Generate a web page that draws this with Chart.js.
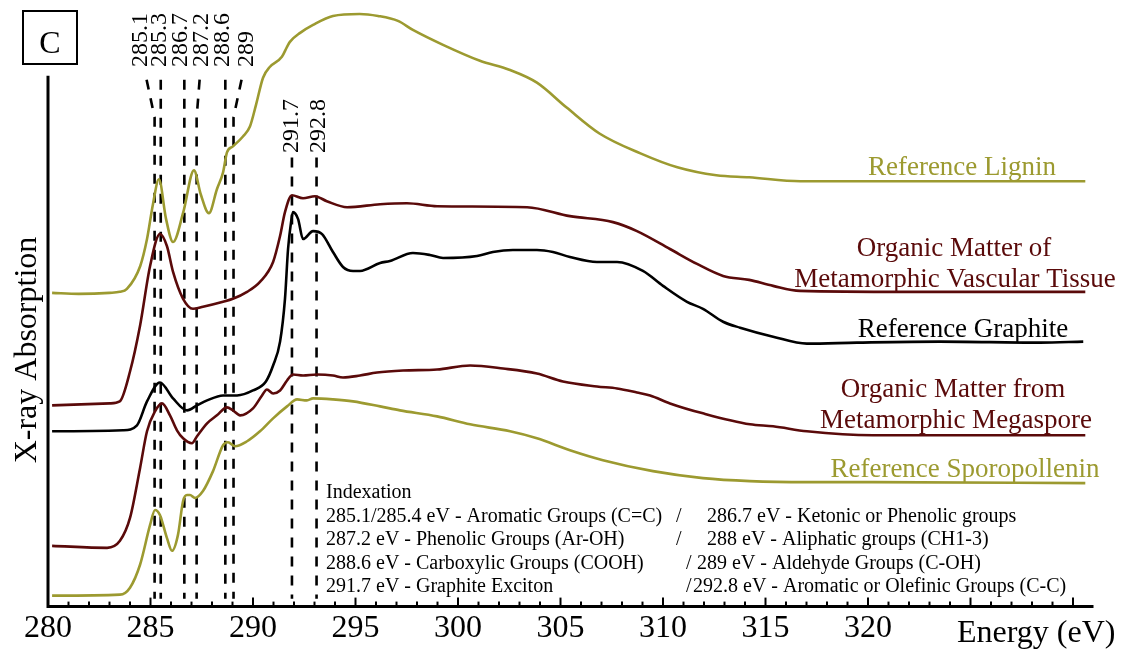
<!DOCTYPE html>
<html>
<head>
<meta charset="utf-8">
<script src="https://cdn.jsdelivr.net/npm/chart.js@4.4.1/dist/chart.umd.min.js"></script>
<style>
    html, body { margin: 0; padding: 0; background: #fff; }
    canvas { display: block; }
</style>
</head>
<body>
<canvas id="grafico" width="1122" height="656"></canvas>
<script>
/* =============================
     DADOS (energia em eV, absorcao em u.a.)
============================= */
const ligninE = [280.2, 281.5, 283, 283.5, 283.85, 284.5, 284.83, 285.12, 285.41, 285.76, 286.1, 286.6, 287.12, 287.45, 287.85, 288.24, 288.54, 288.73, 289.02, 289.51, 289.85, 290.15, 290.49, 290.83, 291.41, 291.66, 291.8, 292.3, 292.93, 293.9, 295.2, 296.1, 297.07, 297.8, 299.27, 301.07, 302.5, 303.85, 305.3, 306.9, 308.9, 310.7, 312.6, 314.2, 316.7, 320.2, 330.6];
const ligninA = [315, 314, 315, 316, 319, 342, 369, 404, 429, 389, 366, 396, 438, 414, 395, 419, 436, 456, 462, 472, 482, 504, 531, 542, 552, 562, 567, 576, 584, 593, 595, 593, 588, 579, 564, 548, 539, 526, 501, 475, 455, 441, 433, 431, 427, 427, 427];

const vascE = [280.2, 283.02, 283.5, 284.0, 284.49, 284.98, 285.46, 285.8, 286.1, 286.59, 287.07, 287.56, 288.54, 289.02, 289.71, 290.34, 290.98, 291.32, 291.56, 291.9, 292.44, 293.02, 293.6, 294.59, 296.2, 297.51, 298.98, 303.37, 305.46, 307.56, 308.73, 310.34, 311.66, 312.93, 314.2, 315.37, 316.68, 321.9, 330.6];
const vascA = [202, 204, 206, 236, 282, 342, 374, 362, 336, 309, 299, 301, 306, 309, 316, 326, 346, 372, 396, 413, 410, 412, 407, 401, 404, 405, 402, 401, 392, 386, 377, 359, 344, 332, 328, 322, 317, 316, 316];

const graphiteE = [280.2, 283.66, 284.34, 284.83, 285.46, 286.1, 286.78, 287.27, 287.76, 288.54, 289.22, 290.0, 290.63, 290.98, 291.32, 291.56, 291.71, 291.85, 291.95, 292.2, 292.44, 292.93, 293.37, 293.9, 294.39, 294.88, 295.22, 296.2, 296.68, 297.8, 298.63, 299.27, 300.93, 301.7, 302.68, 303.85, 304.63, 305.46, 306.78, 307.76, 309.02, 310.0, 311.17, 311.95, 312.93, 313.76, 315.37, 317.02, 319.46, 323.5, 328.39, 330.5];
const graphiteA = [176, 177, 182, 206, 225, 209, 197, 202, 207, 212, 212, 217, 226, 242, 266, 309, 359, 385, 396, 389, 369, 377, 374, 356, 341, 337, 337, 345, 347, 355, 353, 350, 352, 356, 358, 358, 356, 351, 346, 346, 337, 322, 306, 299, 286, 280, 271, 264, 265, 266, 265, 266];

const megasporeE = [280.2, 282.88, 283.51, 284.0, 284.49, 284.83, 285.22, 285.56, 285.95, 286.29, 286.59, 287.02, 287.27, 287.76, 288.24, 288.73, 289.02, 289.37, 290.0, 290.44, 290.68, 290.98, 291.32, 291.66, 291.95, 292.44, 293.12, 293.9, 294.39, 295.22, 296.05, 297.32, 298.98, 300.59, 302.2, 303.85, 305.12, 306.78, 307.76, 308.73, 309.37, 310.34, 311.95, 314.24, 315.37, 317.02, 320.24, 325.12, 330.6];
const megasporeA = [61, 59, 66, 89, 139, 176, 196, 204, 192, 177, 169, 164, 171, 184, 192, 200, 197, 192, 199, 212, 218, 214, 217, 227, 233, 232, 233, 232, 230, 232, 235, 237, 238, 242, 239, 234, 226, 221, 219, 215, 212, 204, 194, 183, 181, 176, 172, 172, 172];

const sporoE = [280.2, 283.51, 284.0, 284.49, 284.98, 285.22, 285.46, 285.8, 286.05, 286.34, 286.59, 286.78, 286.93, 287.17, 287.56, 288.05, 288.54, 288.78, 289.12, 289.71, 290.34, 290.98, 291.66, 292.15, 292.63, 292.93, 293.9, 294.88, 296.2, 297.17, 298.98, 300.59, 302.54, 303.85, 305.46, 307.07, 309.51, 311.95, 314.24, 317.02, 320.24, 330.6];
const sporoA = [11, 12, 19, 42, 82, 97, 92, 69, 56, 72, 106, 112, 112, 109, 116, 136, 162, 165, 161, 166, 176, 189, 201, 208, 207, 209, 208, 206, 201, 197, 191, 183, 176, 169, 157, 147, 136, 129, 126, 125, 125, 124];

// linhas tracejadas (posicao no grafico) e os rotulos escritos
const picosE = [285.2, 285.5, 286.65, 287.25, 288.65, 289.05, 291.9, 293.1];
const picosLabels = ["285.1", "285.3", "286.7", "287.2", "288.6", "289", "291.7", "292.8"];

const xTickLabels = [280, 285, 290, 295, 300, 305, 310, 315, 320];

const indexacao = [
    ["285.1/285.4 eV - Aromatic Groups (C=C)", "286.7 eV - Ketonic or Phenolic groups"],
    ["287.2 eV - Phenolic Groups (Ar-OH)", "288 eV - Aliphatic groups (CH1-3)"],
    ["288.6 eV - Carboxylic Groups (COOH)", "289 eV - Aldehyde Groups (C-OH)"],
    ["291.7 eV - Graphite Exciton", "292.8 eV - Aromatic or Olefinic Groups (C-C)"]
];

const OLIVA = "#9c9a30";
const VINHO = "#5a0a0a";
const SERIF = "'Liberation Serif', 'DejaVu Serif', serif";

const pares = (es, as) => es.map((e, i) => ({ x: e, y: as[i] }));

/* =============================
     DESENHOS EXTRAS
============================= */
const decor = {
    id: "decor",
    beforeDatasetsDraw(chart) {
        const { ctx, scales: { x, y } } = chart;
        const lead = [-8, 0, 0, 3, 0, 8];
        ctx.save();
        ctx.strokeStyle = "#000";
        ctx.lineWidth = 2.6;
        ctx.setLineDash([10, 9]);
        picosE.forEach((e, i) => {
            const px = x.getPixelForValue(e);
            ctx.beginPath();
            if (i < 6) {
                ctx.moveTo(px + lead[i], y.getPixelForValue(529));
                ctx.lineTo(px, y.getPixelForValue(491));
            } else {
                ctx.moveTo(px, y.getPixelForValue(451));
            }
            ctx.lineTo(px, y.getPixelForValue(8));
            ctx.stroke();
        });
        ctx.restore();
    },
    afterDraw(chart) {
        const { ctx, scales: { x, y } } = chart;
        const base = y.getPixelForValue(0);
        const x0 = x.getPixelForValue(280);
        ctx.save();

        // eixos
        ctx.strokeStyle = "#000";
        ctx.lineWidth = 3;
        ctx.beginPath();
        ctx.moveTo(x0, y.getPixelForValue(533));
        ctx.lineTo(x0, base);
        ctx.lineTo(x.getPixelForValue(331), base);
        ctx.stroke();

        ctx.lineWidth = 2;
        for (let e = 281; e <= 330; e++) {
            const px = x.getPixelForValue(e);
            ctx.beginPath();
            ctx.moveTo(px, base);
            ctx.lineTo(px, base - (e % 5 === 0 ? 9 : 5));
            ctx.stroke();
        }

        // rotulos dos picos
        ctx.fillStyle = "#000";
        ctx.font = `24px ${SERIF}`;
        ctx.textAlign = "left";
        ctx.textBaseline = "alphabetic";
        const shift = [-16, -3, -5, 3, -4, 11, -2, 0];
        picosLabels.forEach((t, i) => {
            const px = x.getPixelForValue(picosE[i]) + shift[i];
            const bottom = i < 6 ? 67 : 153;
            ctx.save();
            ctx.translate(px + 8, bottom);
            ctx.rotate(-Math.PI / 2);
            ctx.fillText(t, 0, 0);
            ctx.restore();
        });

        // titulo dos eixos
        ctx.font = `32px ${SERIF}`;
        ctx.fillText("Energy (eV)", 957, 642);
        ctx.save();
        ctx.translate(36, 350);
        ctx.rotate(-Math.PI / 2);
        ctx.textAlign = "center";
        ctx.fillText("X-ray Absorption", 0, 0);
        ctx.restore();

        // caixa C
        ctx.lineWidth = 2;
        ctx.strokeRect(23, 11, 54, 53);
        ctx.textAlign = "center";
        ctx.fillText("C", 50, 53);

        // nomes das curvas
        ctx.font = `27px ${SERIF}`;
        const nomes = [
            ["Reference Lignin", 962, 175, OLIVA],
            ["Organic Matter of", 954, 256, VINHO],
            ["Metamorphic Vascular Tissue", 955, 287, VINHO],
            ["Reference Graphite", 963, 337, "#000"],
            ["Organic Matter from", 953, 397, VINHO],
            ["Metamorphic Megaspore", 956, 428, VINHO],
            ["Reference Sporopollenin", 965, 477, OLIVA]
        ];
        nomes.forEach(([t, px, py, c]) => {
            ctx.fillStyle = c;
            ctx.fillText(t, px, py);
        });

        // indexacao
        ctx.fillStyle = "#000";
        ctx.font = `20px ${SERIF}`;
        ctx.textAlign = "left";
        ctx.fillText("Indexation", 326, 498);
        const barra = [676, 676, 686, 686];
        const col2 = [707, 707, 697, 693];
        indexacao.forEach(([a, b], i) => {
            const py = 522 + i * 23.4;
            ctx.fillText(a, 326, py);
            ctx.fillText("/", barra[i], py);
            ctx.fillText(b, col2[i], py);
        });

        ctx.restore();
    }
};

/* =============================
     GRAFICO
============================= */
const serie = (label, es, as, cor) => ({
    label,
    data: pares(es, as),
    borderColor: cor,
    borderWidth: 2.6,
    pointRadius: 0,
    cubicInterpolationMode: "monotone",
    fill: false
});

new Chart(document.getElementById("grafico"), {
    type: "line",
    data: {
        datasets: [
            serie("Reference Lignin", ligninE, ligninA, OLIVA),
            serie("Organic Matter of Metamorphic Vascular Tissue", vascE, vascA, VINHO),
            serie("Reference Graphite", graphiteE, graphiteA, "#000"),
            serie("Organic Matter from Metamorphic Megaspore", megasporeE, megasporeA, VINHO),
            serie("Reference Sporopollenin", sporoE, sporoA, OLIVA)
        ]
    },
    options: {
        responsive: false,
        animation: false,
        layout: { padding: { left: 48, right: 28.5, top: 0, bottom: 5 } },
        plugins: {
            legend: { display: false },
            tooltip: { enabled: false }
        },
        scales: {
            x: {
                type: "linear",
                min: 280,
                max: 331,
                grid: { display: false, drawTicks: false },
                border: { display: false },
                ticks: {
                    stepSize: 1,
                    autoSkip: false,
                    maxRotation: 0,
                    padding: 3,
                    color: "#000",
                    font: { family: SERIF, size: 32 },
                    callback: v => xTickLabels.includes(v) ? String(v) : ""
                }
            },
            y: { display: false, min: 0, max: 609 }
        }
    },
    plugins: [decor]
});
</script>
</body>
</html>
